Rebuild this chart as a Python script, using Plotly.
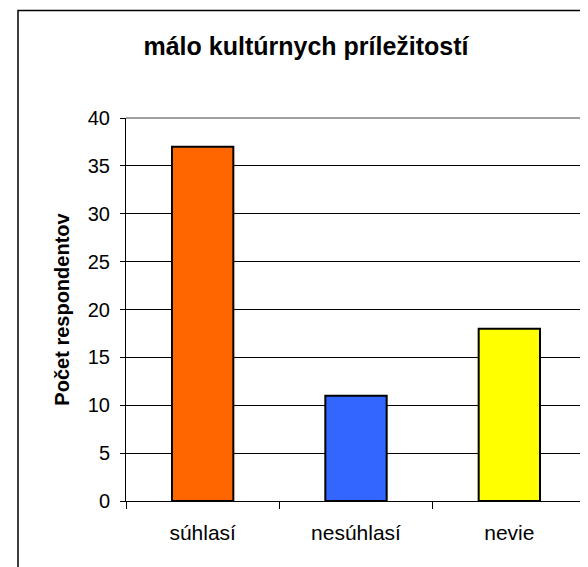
import plotly.graph_objects as go

categories = ["súhlasí", "nesúhlasí", "nevie"]
values = [37, 11, 18]
colors = ["#FF6600", "#3366FF", "#FFFF00"]
title_text = "málo kultúrnych príležitostí"
y_title = "Počet respondentov"
y_ticks = [0, 5, 10, 15, 20, 25, 30, 35, 40]

# page body has an 8px margin; compensate
OFF = 8
W, H = 588 - OFF, 567 - OFF
L, R, T, B = 126 - OFF, 2, 118 - OFF, 66
pw, ph = W - L - R, H - T - B

def px_x(x):
    return (x - OFF - L) / pw

def px_y(y):
    return (H - B - (y - OFF)) / ph

fig = go.Figure()
fig.add_trace(go.Bar(
    x=categories, y=values,
    marker=dict(color=colors, line=dict(color="black", width=2)),
    width=0.4,
))

font = "Liberation Sans, Arial, sans-serif"
fig.update_layout(
    width=W, height=H,
    margin=dict(l=L, r=R, t=T, b=B),
    paper_bgcolor="white", plot_bgcolor="white",
    showlegend=False,
    font=dict(family=font, size=20, color="black"),
    title=dict(text="<b>" + title_text + "</b>", x=(306 - OFF) / W, xanchor="center",
               y=1 - (46 - OFF) / H, yanchor="middle", xref="container", yref="container",
               font=dict(size=25, family=font, color="black")),
    xaxis=dict(
        type="category", range=[-0.5, 2.5],
        showline=True, linecolor="black", linewidth=1,
        ticks="outside", tickson="boundaries", ticklen=7, tickcolor="black",
        showgrid=False, ticklabelstandoff=13,
        tickfont=dict(size=21, family=font),
    ),
    yaxis=dict(
        range=[0, 40], tickvals=y_ticks,
        showline=True, linecolor="black", linewidth=1,
        ticks="outside", ticklen=5, tickcolor="black",
        showgrid=True, gridcolor="black", gridwidth=1,
        zeroline=False, ticklabelstandoff=6,
        tickfont=dict(size=20, family=font),
        title=dict(text="<b>" + y_title + "</b>", font=dict(size=20, family=font), standoff=12),
    ),
    shapes=[
        dict(type="rect", xref="paper", yref="paper",
             x0=px_x(18), x1=px_x(600), y0=px_y(590), y1=px_y(10.5),
             line=dict(color="black", width=1.5), fillcolor="rgba(0,0,0,0)", layer="below"),
        dict(type="line", xref="paper", yref="paper", x0=0, x1=1, y0=1, y1=1,
             line=dict(color="#808080", width=1.5), layer="above"),
        dict(type="line", xref="paper", yref="paper", x0=1, x1=1, y0=0, y1=1,
             line=dict(color="#808080", width=1.5), layer="above"),
    ],
)

fig.write_html("out.html")
